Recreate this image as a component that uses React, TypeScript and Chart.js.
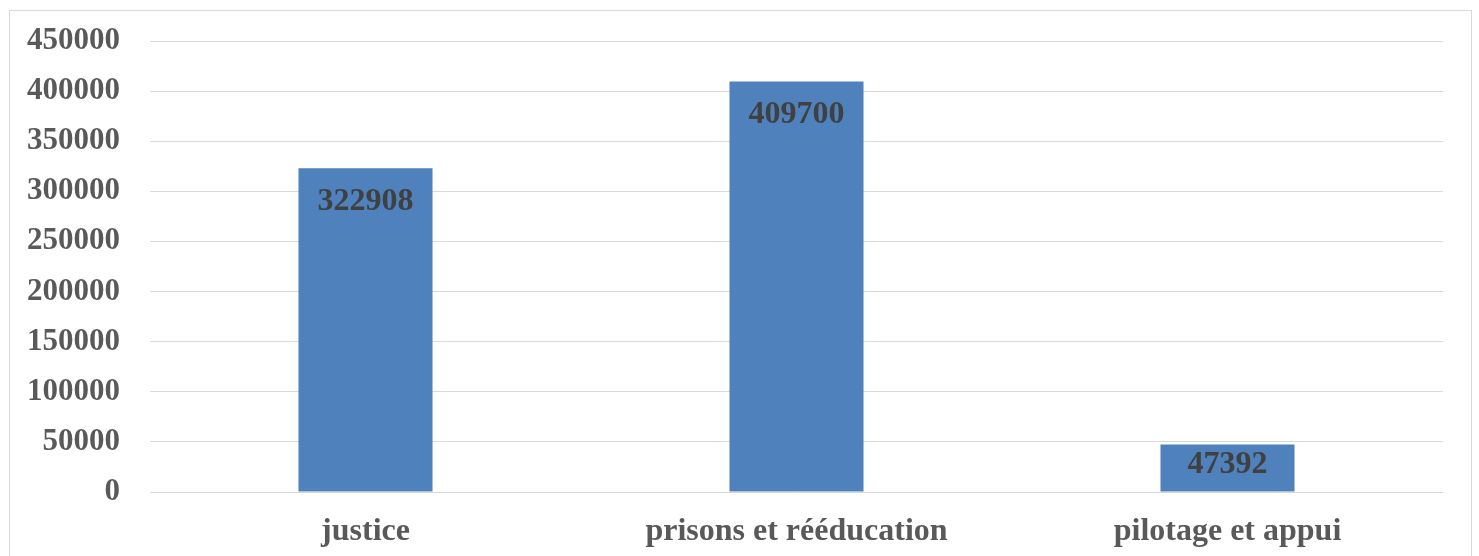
import React, { useEffect, useRef } from "react";
import { Chart, registerables } from "chart.js";

Chart.register(...registerables);

const categories = ["justice", "prisons et rééducation", "pilotage et appui"];
const values = [322908, 409700, 47392];
const yTicks = [0, 50000, 100000, 150000, 200000, 250000, 300000, 350000, 400000, 450000];

const FONT = "'Liberation Serif', 'Times New Roman', serif";

// Value labels drawn just inside the top of each bar
const valueLabels = {
  id: "valueLabels",
  afterDatasetsDraw(chart: any) {
    const { ctx } = chart;
    const meta = chart.getDatasetMeta(0);
    ctx.save();
    ctx.font = `bold 32px ${FONT}`;
    ctx.fillStyle = "#404040";
    ctx.textAlign = "center";
    ctx.textBaseline = "middle";
    meta.data.forEach((bar: any, i: number) => {
      const y = Math.min(bar.y + 33, bar.base - 27);
      ctx.fillText(String(values[i]), bar.x, y);
    });
    ctx.restore();
  },
};

export default function App() {
  const ref = useRef<HTMLCanvasElement | null>(null);

  useEffect(() => {
    if (!ref.current) return;
    const chart = new Chart(ref.current, {
      type: "bar",
      data: {
        labels: categories,
        datasets: [
          {
            data: values,
            backgroundColor: "#4F81BD",
            borderWidth: 0,
            categoryPercentage: 1,
            barPercentage: 0.311,
          },
        ],
      },
      options: {
        animation: false,
        responsive: false,
        events: [],
        layout: { padding: { top: 30, right: 28, left: 0, bottom: 0 } },
        plugins: { legend: { display: false }, tooltip: { enabled: false } },
        scales: {
          x: {
            grid: { display: false, drawTicks: false },
            border: { display: false },
            ticks: {
              color: "#595959",
              padding: 21,
              font: { family: FONT, size: 32, weight: "bold" },
            },
            afterFit(scale: any) {
              scale.height = 77;
            },
          },
          y: {
            min: 0,
            max: 450000,
            afterBuildTicks(scale: any) {
              scale.ticks = yTicks.map((v) => ({ value: v }));
            },
            grid: { color: "#d9d9d9", lineWidth: 1, drawTicks: false },
            border: { display: false },
            ticks: {
              color: "#595959",
              padding: 30,
              font: { family: FONT, size: 31, weight: "bold" },
              callback: (v: any) => String(v),
            },
            afterFit(scale: any) {
              scale.width = 140;
              scale.paddingTop = 0;
              scale.paddingBottom = 0;
            },
          },
        },
      },
      plugins: [valueLabels],
    });
    return () => chart.destroy();
  }, []);

  return (
    <div
      style={{
        position: "fixed",
        left: 9,
        top: 10,
        width: 1463,
        height: 560,
        border: "1px solid #d9d9d9",
        boxSizing: "border-box",
        background: "#fff",
      }}
    >
      <canvas ref={ref} width={1461} height={558} style={{ display: "block" }} />
    </div>
  );
}
